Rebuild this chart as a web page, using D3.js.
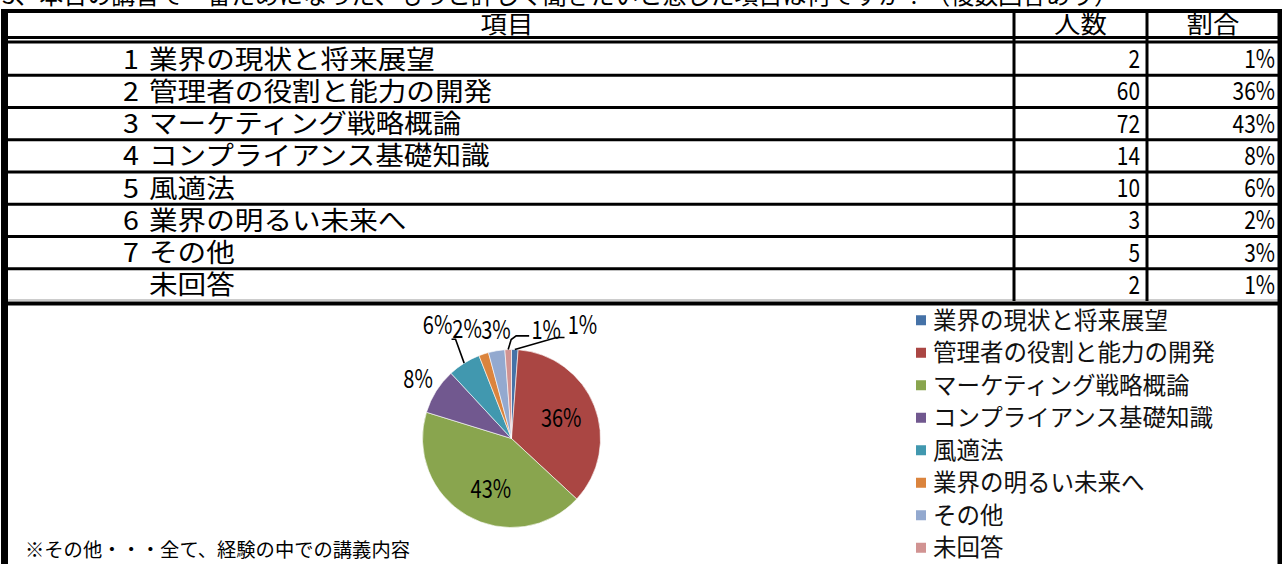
<!DOCTYPE html>
<html><head><meta charset="utf-8">
<script src="https://cdn.jsdelivr.net/npm/d3@7"></script>
<style>
html,body{margin:0;padding:0;background:#fff;}
svg{display:block;}
.jp{font-family:"Noto Sans CJK JP","Noto Sans",sans-serif;}
.num{font-family:"Noto Sans CJK JP","Noto Sans",sans-serif;}
</style></head>
<body>
<svg id="chart" width="1282" height="564"></svg>
<script>
// ---- data ----
const titleText = "3、本日の講習で一番ためになった、もっと詳しく聞きたいと感じた項目は何ですか？（複数回答あり）";
const headers = ["項目", "人数", "割合"];
const itemNumbers = ["1", "2", "3", "4", "5", "6", "7", ""];
const categories = ["業界の現状と将来展望", "管理者の役割と能力の開発", "マーケティング戦略概論", "コンプライアンス基礎知識", "風適法", "業界の明るい未来へ", "その他", "未回答"];
const counts = [2, 60, 72, 14, 10, 3, 5, 2];
const colors = ["#4572A7", "#AA4643", "#89A54E", "#71588F", "#4198AF", "#DB843D", "#93A9CF", "#D19392"];
const footnote = "※その他・・・全て、経験の中での講義内容";

// ---- layout ----
const W = 1282, H = 564;
const svg = d3.select("#chart");
const total = d3.sum(counts);
const pct = d3.format(".0%");
const rows = categories.map((c, i) => ({ i, num: itemNumbers[i], name: c, count: counts[i], share: counts[i] / total, color: colors[i] }));

const colX = { left: 8, c1: 1014, c2: 1147, right: 1279 };
const headerTop = 11, headerBottom = 43, tableBottom = 301;
const y = d3.scaleBand().domain(d3.range(rows.length)).range([headerBottom, tableBottom]).padding(0);

// narrow-digit text helper (condensed look of the original)
function narrow(sel, x, yy, size, anchor, txt, sx) {
  return sel.append("text").attr("class", "num")
    .attr("transform", `translate(${x},${yy}) scale(${sx || 0.8},1)`)
    .attr("font-size", size).attr("text-anchor", anchor).text(txt);
}

// title (clipped at top)
svg.append("text").attr("class", "jp").attr("x", 2).attr("y", 4)
  .attr("font-size", 24).attr("textLength", 1116).attr("lengthAdjust", "spacingAndGlyphs")
  .text(titleText);

// header texts
const hdrCenters = [(colX.left + colX.c1) / 2 - 4, (colX.c1 + colX.c2) / 2, (colX.c2 + colX.right) / 2];
svg.selectAll("text.hdr").data(headers).join("text").attr("class", "hdr jp")
  .attr("transform", (d, i) => `translate(${hdrCenters[i]},33) scale(1.1,1)`)
  .attr("text-anchor", "middle").attr("font-size", 24).text(d => d);

// row texts
const rowG = svg.selectAll("g.row").data(rows).join("g").attr("class", "row")
  .attr("transform", d => `translate(0,${y(d.i) + y.bandwidth() / 2})`);
rowG.append("text").attr("class", "jp").attr("transform", "translate(123,9.5) scale(1.1,1)").attr("font-size", 26)
  .text(d => d.num);
rowG.append("text").attr("class", "jp").attr("transform", "translate(149,9.5) scale(1.1,1)").attr("font-size", 26)
  .text(d => d.name);
rowG.each(function (d) {
  const s = d3.select(this);
  narrow(s, colX.c2 - 7, 9, 25.5, "end", d.count, 0.82);
  narrow(s, colX.right - 4, 9, 25.5, "end", pct(d.share), 0.82);
});

// table lines
const g = svg.append("g").attr("stroke", "#000").attr("fill", "none");
g.append("line").attr("x1", colX.left).attr("x2", colX.right + 2).attr("y1", headerTop).attr("y2", headerTop).attr("stroke-width", 4);
g.append("line").attr("x1", colX.left).attr("x2", colX.right + 2).attr("y1", headerBottom - 5.5).attr("y2", headerBottom - 5.5).attr("stroke-width", 3);
g.append("line").attr("x1", colX.left).attr("x2", colX.right + 2).attr("y1", headerBottom - 1).attr("y2", headerBottom - 1).attr("stroke-width", 3);
rows.slice(1).forEach(r => {
  g.append("line").attr("x1", colX.left).attr("x2", colX.right + 2).attr("y1", y(r.i)).attr("y2", y(r.i)).attr("stroke-width", 3);
});
g.append("line").attr("x1", colX.left).attr("x2", colX.right + 2).attr("y1", tableBottom - 1).attr("y2", tableBottom - 1).attr("stroke", "#999").attr("stroke-width", 1);
g.append("line").attr("x1", colX.left).attr("x2", colX.right + 2).attr("y1", tableBottom + 2.5).attr("y2", tableBottom + 2.5).attr("stroke-width", 4);
[colX.c1, colX.c2].forEach(x => {
  g.append("line").attr("x1", x).attr("x2", x).attr("y1", headerTop).attr("y2", tableBottom).attr("stroke-width", 3);
});
g.append("line").attr("x1", 4.5).attr("x2", 4.5).attr("y1", headerTop - 2).attr("y2", H).attr("stroke-width", 7);
g.append("line").attr("x1", colX.right + 1).attr("x2", colX.right + 1).attr("y1", headerTop - 2).attr("y2", H).attr("stroke-width", 5);

// ---- pie ----
const cx = 511.5, cy = 438.5, R = 89;
const pie = d3.pie().sort(null).value(d => d.count);
const arcs = pie(rows);
const arc = d3.arc().innerRadius(0).outerRadius(R);
const pg = svg.append("g").attr("transform", `translate(${cx},${cy})`);
pg.selectAll("path").data(arcs).join("path").attr("d", arc)
  .attr("fill", d => d.data.color).attr("stroke", "#fff").attr("stroke-width", 0.6);

// label placement: polar (angle offset in degrees, radius factor) relative to slice mid-angle
const labelLayout = [
  { da: 30, rf: 1.50, leader: true },   // 1% blue
  { da: 0, rf: 0.60 },                  // 36%
  { da: -8, rf: 0.62 },                 // 43%
  { da: 0, rf: 1.24 },                  // 8%
  { da: -1, rf: 1.52, leader: true },   // 6%
  { da: -4, rf: 1.32 },                 // 2%
  { da: 1.5, rf: 1.23 },                // 3%
  { da: 20, rf: 1.27, leader: true }    // 1% pink
];
const polar = (ang, r) => [r * Math.sin(ang), -r * Math.cos(ang)];
arcs.forEach((a, i) => {
  const L = labelLayout[i];
  const mid = (a.startAngle + a.endAngle) / 2;
  const [lx, ly] = polar(mid + L.da * Math.PI / 180, R * L.rf);
  narrow(pg, lx, ly + 8.5, 25, "middle", pct(a.data.share), 0.8).attr("fill", "#000");
  if (L.leader) {
    const [ex, ey] = polar(mid, R);
    let pts;
    if (lx < 0) {
      pts = [[ex, ey], [lx + 18, ly + 14], [lx + 14, ly + 14]];
    } else if (lx > 50) {
      pts = [[ex, ey], [lx - 26, ly + 12], [lx - 18, ly + 12]];
    } else {
      pts = [[ex, ey], [ex + 3, ey - 10], [ex + 8, ly + 5], [lx - 17, ly + 5]];
    }
    pg.append("path").attr("d", d3.line()(pts)).attr("fill", "none").attr("stroke", "#000").attr("stroke-width", 1.6);
  }
});

// ---- legend ----
const lyS = d3.scaleBand().domain(d3.range(rows.length)).range([304, 564]);
const lg = svg.selectAll("g.leg").data(rows).join("g").attr("class", "leg")
  .attr("transform", d => `translate(916,${lyS(d.i) + lyS.bandwidth() / 2})`);
lg.append("rect").attr("x", 0).attr("y", -5).attr("width", 10).attr("height", 10).attr("fill", d => d.color);
lg.append("text").attr("class", "jp").attr("x", 17).attr("y", 8.5).attr("font-size", 23.5).attr("fill", "#111").text(d => d.name);

// footnote
svg.append("text").attr("class", "jp").attr("x", 25).attr("y", 557).attr("font-size", 19)
  .attr("textLength", 385).attr("lengthAdjust", "spacingAndGlyphs").text(footnote);
</script>
</body></html>
